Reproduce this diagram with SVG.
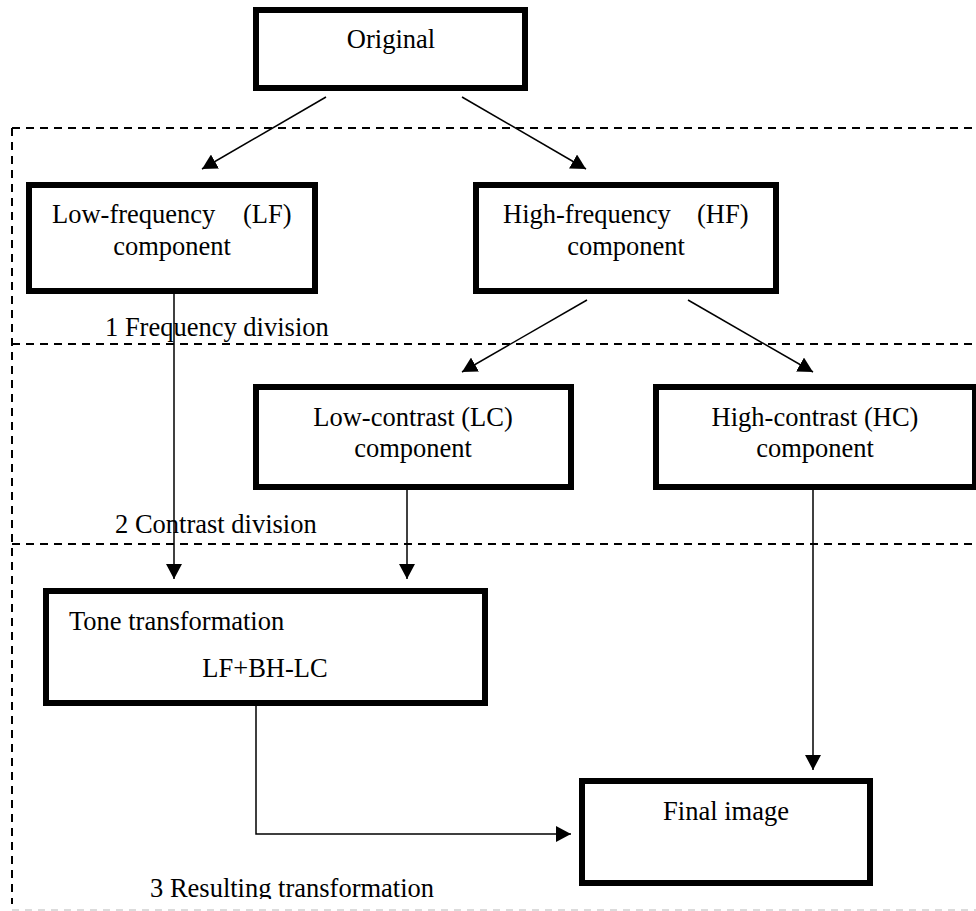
<svg xmlns="http://www.w3.org/2000/svg" width="976" height="911" viewBox="0 0 976 911">
  <style>
    .box { fill: #ffffff; stroke: #000000; stroke-width: 6; }
    .t { font-family: "Liberation Serif", "Times New Roman", serif; font-size: 26.5px; fill: #000000; }
    .mid { text-anchor: middle; }
    .dash { fill: none; stroke: #000000; stroke-width: 2; stroke-dasharray: 8 6; }
    .conn { fill: none; stroke: #000000; stroke-width: 1.5; marker-end: url(#arrow); }
    .plain { fill: none; stroke: #000000; stroke-width: 1.5; }
  </style>
  <defs>
    <marker id="arrow" markerUnits="userSpaceOnUse" markerWidth="16" markerHeight="16" viewBox="0 0 16 16" refX="15" refY="8" orient="auto">
      <path d="M0,0 L15,8 L0,16 z" fill="#000000"/>
    </marker>
    <clipPath id="bottomClip">
      <rect x="0" y="0" width="976" height="899"/>
    </clipPath>
  </defs>
  <rect x="0" y="0" width="976" height="911" fill="#ffffff"/>

  <g id="stages">
    <line class="dash" x1="12" y1="128" x2="976" y2="128"/>
    <line class="dash" x1="12" y1="128" x2="12" y2="904"/>
    <line class="dash" x1="12" y1="344" x2="976" y2="344"/>
    <line class="dash" x1="12" y1="544" x2="976" y2="544"/>
    <line x1="12" y1="910" x2="976" y2="910" stroke="#b8b8b8" stroke-width="1.2" stroke-dasharray="7 6"/>
    <text class="t" x="105" y="336">1 Frequency division</text>
    <text class="t" x="115" y="533">2 Contrast division</text>
    <text class="t" x="150" y="897" clip-path="url(#bottomClip)">3 Resulting transformation</text>
  </g>

  <g id="connectors">
    <line class="conn" x1="326" y1="97" x2="202" y2="169"/>
    <line class="conn" x1="462" y1="97" x2="586" y2="169"/>
    <line class="conn" x1="587" y1="300" x2="462" y2="372"/>
    <line class="conn" x1="688" y1="300" x2="813" y2="372"/>
    <line class="conn" x1="174" y1="294" x2="174" y2="579"/>
    <line class="conn" x1="407" y1="490" x2="407" y2="579"/>
    <line class="conn" x1="813" y1="490" x2="813" y2="770"/>
    <path class="conn" d="M256,706 V834 H571"/>
  </g>

  <g id="original">
    <rect class="box" x="256" y="10" width="269" height="78"/>
    <text class="t mid" x="391" y="48">Original</text>
  </g>

  <g id="lf">
    <rect class="box" x="29" y="185" width="286" height="106"/>
    <text class="t"><tspan x="52" y="223">Low-frequency</tspan><tspan x="243" y="223">(LF)</tspan></text>
    <text class="t mid" x="172" y="255">component</text>
  </g>

  <g id="hf">
    <rect class="box" x="476" y="185" width="300" height="106"/>
    <text class="t"><tspan x="503" y="223">High-frequency</tspan><tspan x="697" y="223">(HF)</tspan></text>
    <text class="t mid" x="626" y="255">component</text>
  </g>

  <g id="lc">
    <rect class="box" x="256" y="387" width="315" height="100"/>
    <text class="t mid" x="413" y="426">Low-contrast (LC)</text>
    <text class="t mid" x="413" y="457">component</text>
  </g>

  <g id="hc">
    <rect class="box" x="656" y="387" width="319" height="100"/>
    <text class="t mid" x="815" y="426">High-contrast (HC)</text>
    <text class="t mid" x="815" y="457">component</text>
  </g>

  <g id="tone">
    <rect class="box" x="46" y="591" width="439" height="112"/>
    <text class="t" x="69" y="630">Tone transformation</text>
    <text class="t mid" x="265" y="677">LF+BH-LC</text>
  </g>

  <g id="final">
    <rect class="box" x="582" y="781" width="288" height="102"/>
    <text class="t mid" x="726" y="820">Final image</text>
  </g>
</svg>
